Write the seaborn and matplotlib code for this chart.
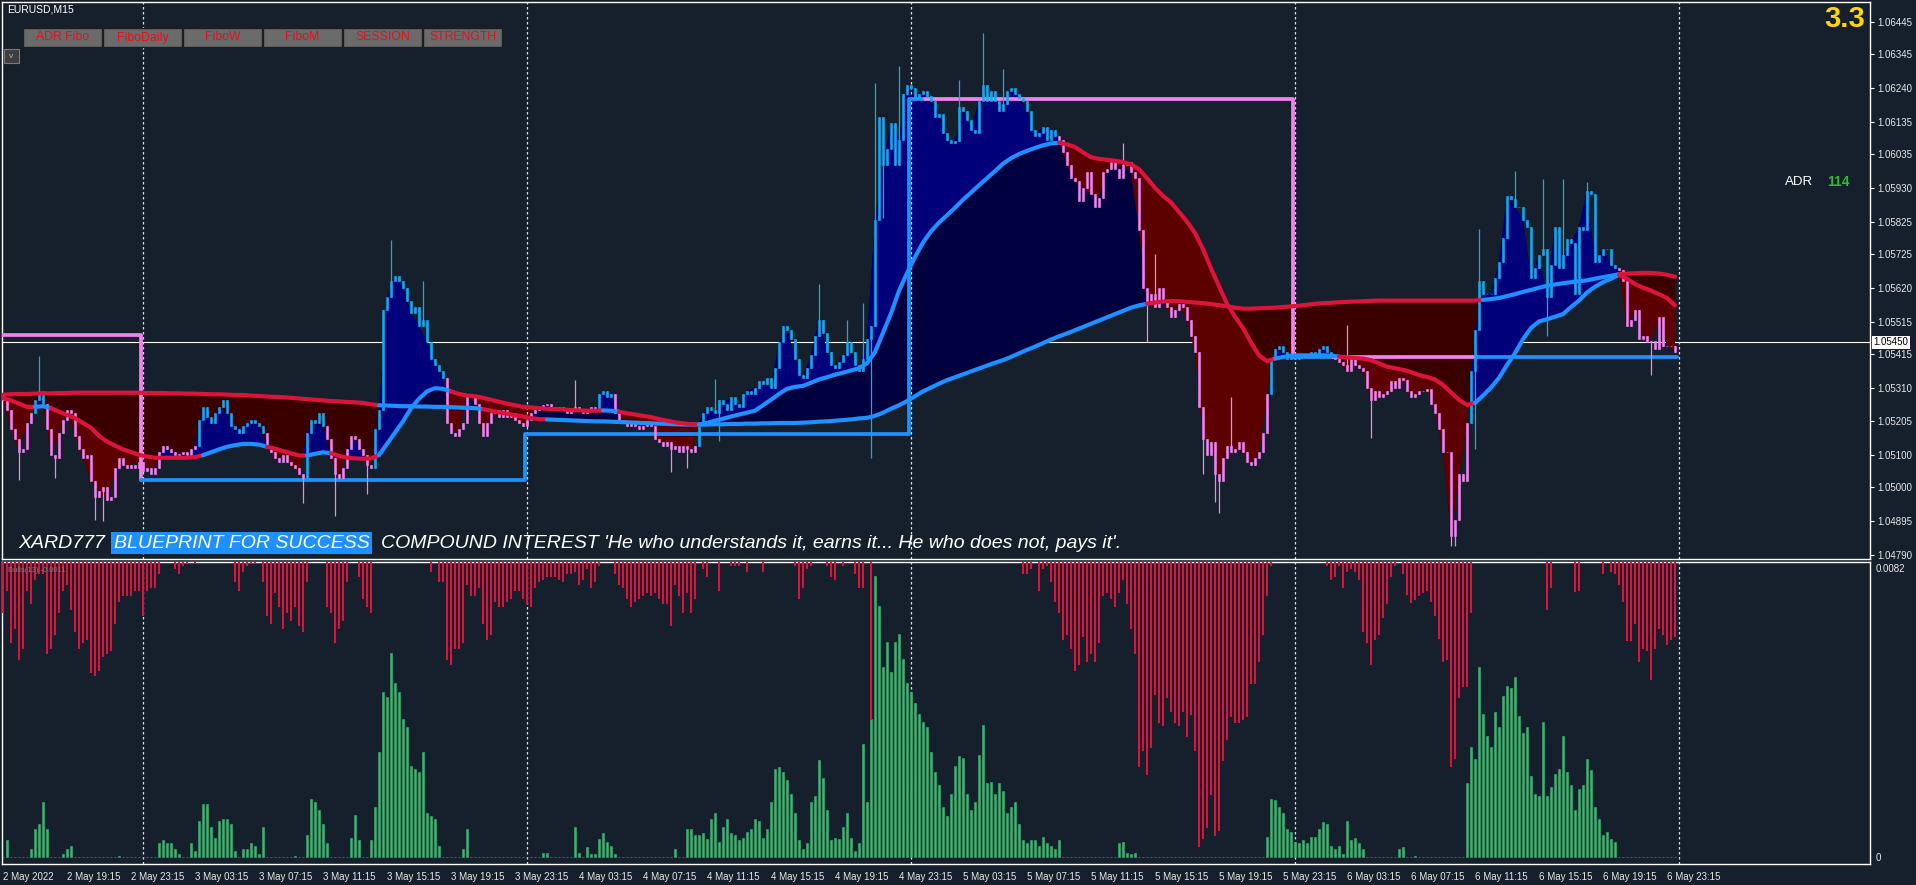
import numpy as np
import matplotlib
matplotlib.use("Agg")
import matplotlib.pyplot as plt
import matplotlib.transforms as mtransforms
from matplotlib.patches import Rectangle
import seaborn as sns

# ---------------------------------------------------------------- data
BASE_PRICE = 1.05000          # prices below are stored in points (1e-5) above this
POINT = 0.00001
N_BARS = 419                  # M15 bars, 2 May 15:15 .. 6 May 23:45

CLOSE_PTS = [
    270, 240, 180, 150, 110, 120, 200, 230, 270, 300,
    260, 180, 100, 90, 170, 210, 240, 230, 160, 120,
    90, 100, 20, -30, -10, 0, -40, -30, 60, 90,
    70, 60, 70, 60, 80, 50, 60, 40, 60, 110,
    130, 120, 110, 100, 105, 110, 100, 120, 130, 210,
    250, 220, 200, 230, 250, 270, 230, 190, 180, 170,
    190, 200, 210, 200, 190, 170, 130, 110, 90, 80,
    100, 80, 70, 60, 40, 30, 170, 210, 200, 230,
    190, 150, 90, 40, 30, 60, 120, 160, 150, 120,
    100, 70, 60, 180, 240, 550, 590, 640, 655, 640,
    620, 580, 540, 560, 500, 520, 450, 400, 380, 360,
    340, 200, 170, 160, 180, 200, 290, 280, 260, 200,
    160, 200, 230, 240, 220, 240, 220, 230, 210, 200,
    190, 210, 230, 240, 250, 255, 260, 250, 240, 250,
    240, 230, 240, 250, 240, 230, 240, 250, 240, 290,
    300, 280, 290, 230, 210, 200, 190, 200, 190, 180,
    190, 200, 190, 150, 140, 130, 140, 120, 130, 110,
    130, 120, 110, 130, 200, 230, 250, 240, 230, 270,
    260, 240, 280, 260, 250, 290, 300, 290, 310, 330,
    320, 340, 310, 370, 450, 500, 490, 460, 400, 350,
    340, 370, 410, 470, 520, 480, 420, 380, 370, 390,
    410, 450, 420, 380, 360, 400, 460, 500, 830, 1150,
    1000, 1050, 1130, 1000, 1080, 1220, 1250, 1240, 1210, 1220,
    1230, 1215, 1200, 1150, 1160, 1100, 1080, 1070, 1075, 1180,
    1170, 1140, 1110, 1100, 1200, 1250, 1200, 1230, 1200, 1170,
    1190, 1230, 1240, 1220, 1210, 1200, 1170, 1110, 1090, 1100,
    1120, 1080, 1110, 1090, 1080, 1040, 1000, 960, 950, 890,
    930, 980, 910, 870, 900, 980, 990, 1010, 990, 960,
    1000, 1010, 980, 960, 800, 620, 570, 600, 560, 620,
    580, 560, 530, 550, 570, 560, 520, 470, 420, 250,
    150, 100, 140, 40, 20, 90, 130, 110, 120, 140,
    110, 80, 70, 90, 110, 170, 290, 400, 430, 440,
    420, 400, 410, 400, 410, 410, 415, 420, 410, 430,
    440, 420, 410, 400, 390, 380, 360, 400, 380, 370,
    360, 310, 270, 300, 280, 290, 300, 330, 310, 340,
    332, 300, 280, 290, 300, 300, 305, 260, 230, 180,
    110, 110, -150, -100, 40, 20, 200, 360, 490, 640,
    600, 600, 600, 650, 700, 775, 905, 895, 870, 870,
    830, 810, 650, 680, 720, 740, 590, 690, 810, 680,
    720, 770, 760, 600, 810, 800, 920, 910, 700, 720,
    740, 740, 690, 680, 675, 640, 500, 520, 550, 460,
    470, 450, 455, 430, 530, 440, 440, 440, 420,
]
OPEN0_PTS = 290

HIGH_WICK_PTS = {9: 409, 97: 768, 105: 640, 143: 332, 178: 335, 204: 631,
                 211: 520, 215: 571, 218: 1256, 224: 1308, 239: 1265,
                 245: 1410, 250: 1299, 280: 1068, 288: 725, 307: 280,
                 336: 503, 369: 803, 378: 982, 385: 957, 390: 957, 396: 948}
LOW_WICK_PTS = {4: 24, 13: 30, 23: -100, 25: -105, 75: -50, 83: -88, 91: -20,
                167: 49, 171: 60, 179: 143, 217: 92, 220: 837, 286: 452,
                300: 41, 303: -45, 304: -79, 342: 152, 362: -182, 363: -182,
                368: 118, 386: 469, 412: 349}

MA_STEP = 2   # moving averages read every 2 bars (bars 0, 2, ..., 418)
FAST_MA_PTS = [
    277, 270, 260, 250, 250, 252, 246, 235, 225, 215,
    200, 185, 160, 142, 130, 118, 110, 101, 96, 92,
    92, 92, 92, 92, 94, 100, 109, 118, 126, 131,
    135, 135, 133, 126, 120, 113, 106, 99, 99, 104,
    109, 106, 98, 92, 90, 89, 90, 100, 135, 170,
    205, 246, 275, 298, 308, 306, 298, 290, 285, 283,
    278, 272, 266, 260, 255, 250, 248, 246, 244, 243,
    242, 240, 239, 238, 238, 239, 238, 235, 230, 226,
    222, 218, 212, 207, 202, 199, 196, 195, 200, 207,
    213, 220, 226, 232, 238, 255, 272, 290, 306, 312,
    315, 325, 335, 342, 350, 356, 363, 370, 385, 420,
    480, 540, 610, 665, 715, 760, 795, 822, 845, 868,
    893, 915, 938, 960, 982, 1005, 1022, 1035, 1045, 1054,
    1062, 1068, 1070, 1065, 1057, 1040, 1025, 1020, 1017, 1014,
    1010, 1003, 988, 960, 930, 905, 885, 855, 825, 790,
    740, 680, 625, 570, 530, 495, 450, 410, 392, 400,
    405, 409, 410, 410, 410, 410, 409, 406, 404, 402,
    400, 395, 385, 375, 370, 365, 358, 349, 343, 335,
    318, 295, 272, 256, 262, 285, 310, 340, 380, 417,
    460, 495, 515, 522, 530, 538, 560, 580, 605, 623,
    637, 648, 660, 648, 631, 620, 611, 600, 588, 565,
]
SLOW_MA_PTS = [
    288, 289, 290, 290, 291, 292, 292, 293, 293, 294,
    294, 294, 294, 294, 294, 294, 294, 294, 293, 293,
    293, 292, 292, 291, 291, 290, 289, 289, 288, 287,
    287, 285, 284, 282, 281, 280, 278, 276, 274, 272,
    270, 268, 267, 265, 264, 262, 258, 255, 254, 253,
    252, 252, 251, 251, 250, 250, 249, 248, 247, 246,
    243, 238, 233, 229, 224, 220, 215, 212, 211, 210,
    209, 208, 207, 206, 205, 205, 204, 203, 202, 201,
    200, 199, 198, 197, 196, 195, 195, 195, 195, 196,
    196, 197, 197, 198, 198, 199, 199, 200, 200, 200,
    201, 202, 204, 205, 207, 209, 211, 214, 216, 222,
    232, 244, 255, 268, 283, 298, 310, 322, 333, 342,
    351, 360, 369, 378, 387, 395, 405, 416, 427, 437,
    448, 459, 469, 478, 488, 498, 508, 518, 528, 538,
    548, 558, 565, 570, 574, 577, 579, 578, 576, 574,
    572, 569, 566, 562, 558, 555, 555, 556, 557, 558,
    560, 562, 564, 567, 570, 572, 573, 575, 576, 577,
    578, 579, 580, 580, 580, 580, 580, 580, 580, 580,
    580, 580, 580, 580, 580, 582, 585, 588, 594, 600,
    607, 613, 620, 626, 630, 634, 637, 640, 643, 648,
    653, 657, 662, 664, 665, 666, 666, 664, 660, 654,
]
# trend state runs (start bar, 'U' up / 'D' down) as coloured in the chart
FAST_TREND = [(0, 'D'), (8, 'U'), (11, 'D'), (49, 'U'), (66, 'D'), (76, 'U'),
              (81, 'D'), (93, 'U'), (111, 'D'), (149, 'U'), (153, 'D'),
              (174, 'U'), (264, 'D'), (317, 'U'), (333, 'D'), (367, 'U'),
              (404, 'D')]
SLOW_TREND = [(0, 'D'), (93, 'U'), (119, 'D'), (135, 'U'), (285, 'D'),
              (369, 'U'), (404, 'D')]

DAY_START_BARS = [0, 35, 131, 227, 323, 419]
DAY_LEVEL_PTS = [472, 24, 167, 1205, 405]
LEVEL_TREND = [(0, 'D'), (35, 'U'), (231, 'D'), (323, 'U'), (333, 'D'), (369, 'U')]

HIST_GREEN_PTS = {
    1: 47, 7: 23, 8: 78, 9: 94, 10: 156, 11: 78, 15: 8, 16: 23, 17: 31, 29: 3,
    39: 39, 40: 47, 41: 39, 42: 39, 43: 23, 44: 8, 47: 39, 48: 16, 49: 102,
    50: 149, 51: 149, 52: 86, 53: 55, 54: 102, 55: 109, 56: 109, 57: 94,
    58: 16, 60: 23, 61: 23, 62: 39, 63: 31, 64: 8, 65: 86, 73: 3, 76: 63,
    77: 164, 78: 156, 79: 133, 80: 94, 81: 39, 87: 55, 88: 120, 89: 47,
    92: 47, 93: 141, 94: 297, 95: 469, 96: 454, 97: 579, 98: 493, 99: 469,
    100: 391, 101: 368, 102: 258, 103: 250, 104: 242, 105: 297, 106: 125,
    107: 117, 108: 109, 109: 31, 115: 23, 116: 78, 135: 11, 136: 11, 143: 86,
    144: 11, 146: 27, 147: 8, 148: 8, 149: 52, 150: 67, 151: 42, 152: 31,
    153: 8, 168: 23, 171: 78, 172: 78, 173: 63, 174: 63, 175: 67, 176: 52,
    177: 109, 178: 125, 179: 42, 180: 86, 181: 109, 182: 67, 183: 63,
    184: 47, 185: 55, 186: 70, 187: 78, 188: 109, 189: 102, 190: 55, 191: 78,
    192: 156, 193: 250, 194: 255, 195: 242, 196: 219, 197: 180, 198: 125,
    199: 47, 200: 23, 201: 39, 202: 156, 203: 172, 204: 274, 205: 224,
    206: 133, 207: 47, 208: 55, 209: 52, 210: 86, 211: 125, 212: 55, 213: 16,
    214: 39, 215: 321, 216: 156, 217: 391, 218: 798, 219: 712, 220: 540,
    221: 610, 222: 524, 223: 610, 224: 633, 225: 563, 226: 493, 227: 469,
    228: 438, 229: 407, 230: 383, 231: 368, 232: 297, 233: 242, 234: 203,
    235: 141, 236: 117, 237: 180, 238: 258, 239: 286, 240: 282, 241: 180,
    242: 133, 243: 156, 244: 289, 245: 375, 246: 211, 247: 214, 248: 180,
    249: 211, 250: 188, 251: 125, 252: 141, 253: 156, 254: 94, 255: 47,
    256: 39, 257: 47, 258: 47, 259: 31, 260: 58, 261: 39, 262: 31, 263: 23,
    264: 47, 279: 39, 280: 42, 281: 11, 282: 8, 283: 11, 316: 58, 317: 164,
    318: 161, 319: 141, 320: 125, 321: 78, 322: 70, 323: 42, 324: 39,
    325: 47, 326: 39, 327: 58, 328: 58, 329: 78, 330: 99, 331: 94, 332: 31,
    333: 23, 334: 31, 335: 8, 336: 102, 337: 47, 338: 55, 339: 39, 340: 23,
    349: 23, 350: 27, 353: 3, 366: 211, 367: 313, 368: 277, 369: 540,
    370: 407, 371: 344, 372: 313, 373: 411, 374: 368, 375: 458, 376: 485,
    377: 480, 378: 511, 379: 399, 380: 352, 381: 368, 382: 230, 383: 180,
    384: 172, 385: 383, 386: 172, 387: 199, 388: 235, 389: 250, 390: 344,
    391: 242, 392: 203, 393: 133, 394: 192, 395: 203, 396: 277, 397: 246,
    398: 141, 399: 109, 400: 63, 401: 70, 402: 52, 403: 42,
}
HIST_RED_PTS = {   # depth of the red bars hanging from the top of the window
    0: 144, 1: 81, 2: 230, 3: 191, 4: 277, 5: 246, 6: 81, 7: 120, 8: 50,
    9: 34, 10: 34, 11: 261, 12: 246, 13: 206, 14: 144, 15: 81, 16: 66,
    17: 136, 18: 199, 19: 246, 20: 230, 21: 222, 22: 316, 23: 324, 24: 308,
    25: 269, 26: 261, 27: 253, 28: 175, 29: 113, 30: 97, 31: 97, 32: 97,
    33: 81, 34: 81, 35: 152, 36: 81, 37: 74, 38: 74, 39: 34, 43: 19, 44: 34,
    45: 11, 46: 6, 48: 3, 58: 58, 59: 81, 60: 27, 61: 11, 62: 6, 63: 6,
    65: 58, 66: 152, 67: 175, 68: 89, 69: 128, 70: 191, 71: 144, 72: 167,
    73: 128, 74: 183, 75: 199, 76: 58, 81: 128, 82: 144, 83: 230, 84: 191,
    85: 167, 86: 58, 89: 42, 90: 105, 91: 128, 92: 144, 107: 27, 109: 58,
    110: 58, 111: 277, 112: 292, 113: 246, 114: 246, 115: 230, 116: 66,
    117: 97, 118: 97, 119: 74, 120: 175, 121: 222, 122: 206, 123: 113,
    124: 128, 125: 128, 126: 113, 127: 105, 128: 81, 129: 81, 130: 105,
    131: 120, 132: 128, 133: 74, 134: 58, 135: 50, 136: 42, 137: 42, 138: 42,
    139: 50, 140: 58, 141: 34, 142: 34, 143: 27, 144: 66, 145: 50, 146: 19,
    147: 74, 148: 58, 149: 11, 153: 34, 154: 66, 155: 74, 156: 105, 157: 128,
    158: 113, 159: 105, 160: 97, 161: 89, 162: 97, 163: 89, 164: 105,
    165: 120, 166: 120, 167: 183, 168: 66, 169: 97, 170: 144, 171: 89,
    172: 144, 173: 105, 175: 19, 176: 42, 179: 81, 182: 11, 183: 11, 184: 11,
    186: 27, 190: 27, 198: 11, 199: 105, 200: 74, 201: 19, 202: 11, 206: 11,
    207: 42, 208: 50, 210: 11, 213: 34, 214: 74, 215: 74, 217: 449, 255: 34,
    256: 34, 257: 19, 259: 81, 260: 19, 261: 11, 262: 58, 263: 113, 264: 144,
    265: 222, 266: 206, 267: 246, 268: 308, 269: 292, 270: 214, 271: 285,
    272: 261, 273: 285, 274: 230, 275: 97, 276: 89, 277: 105, 278: 128,
    279: 89, 280: 50, 281: 120, 282: 191, 283: 261, 284: 582, 285: 535,
    286: 605, 287: 527, 288: 378, 289: 457, 290: 464, 291: 386, 292: 425,
    293: 457, 294: 464, 295: 425, 296: 496, 297: 433, 298: 535, 299: 809,
    300: 785, 301: 754, 302: 660, 303: 777, 304: 762, 305: 566, 306: 504,
    307: 441, 308: 457, 309: 457, 310: 449, 311: 441, 312: 347, 313: 347,
    314: 285, 315: 206, 316: 97, 317: 11, 331: 11, 332: 50, 333: 42, 334: 11,
    335: 74, 336: 27, 337: 19, 338: 27, 339: 50, 340: 199, 341: 230,
    342: 292, 343: 222, 344: 206, 345: 160, 346: 120, 347: 42, 348: 11,
    350: 34, 351: 94, 352: 116, 353: 109, 354: 97, 355: 89, 356: 81,
    357: 113, 358: 152, 359: 219, 360: 285, 361: 277, 362: 582, 363: 558,
    364: 386, 365: 355, 366: 355, 367: 144, 386: 136, 387: 74, 393: 84,
    394: 81, 400: 34, 402: 27, 403: 34, 404: 66, 405: 113, 406: 225,
    407: 225, 408: 175, 409: 285, 410: 246, 411: 253, 412: 335, 413: 246,
    414: 191, 415: 206, 416: 235, 417: 222, 418: 214,
}
HIST_TOP = 0.00837
HIST_BOTTOM = -0.00020

PRICE_TICKS = ["1.06445", "1.06345", "1.06240", "1.06135", "1.06035", "1.05930",
               "1.05825", "1.05725", "1.05620", "1.05515", "1.05415", "1.05310",
               "1.05205", "1.05100", "1.05000", "1.04895", "1.04790"]
CURRENT_PRICE = "1.05450"
HIST_TICKS = ["0.0082", "0"]
TIME_LABELS = ["2 May 2022", "2 May 19:15", "2 May 23:15", "3 May 03:15",
               "3 May 07:15", "3 May 11:15", "3 May 15:15", "3 May 19:15",
               "3 May 23:15", "4 May 03:15", "4 May 07:15", "4 May 11:15",
               "4 May 15:15", "4 May 19:15", "4 May 23:15", "5 May 03:15",
               "5 May 07:15", "5 May 11:15", "5 May 15:15", "5 May 19:15",
               "5 May 23:15", "6 May 03:15", "6 May 07:15", "6 May 11:15",
               "6 May 15:15", "6 May 19:15", "6 May 23:15"]
TIME_LABEL_EVERY = 16
BUTTONS = ["ADR Fibo", "FiboDaily", "FiboW", "FiboM", "SESSION", "STRENGTH"]
BANNER = ["XARD777", "BLUEPRINT FOR SUCCESS",
          "COMPOUND INTEREST 'He who understands it, earns it... He who does not, pays it'."]

# ---------------------------------------------------------------- style
BG = "#16202c"
UP_LINE, DN_LINE = "#1e90ff", "#dc143c"
UP_CANDLE, DN_CANDLE = "#12a9f2", "#ee82ee"
LEVEL_UP, LEVEL_DN = "#1e90ff", "#ee82ee"
FILL_UP, FILL_UP_DARK = "#00007a", "#00003e"
FILL_DN, FILL_DN_DARK = "#5c0000", "#3a0000"
HIST_G, HIST_R = "#3cb371", "#dc143c"

sns.set_theme(style="dark", rc={"axes.facecolor": BG, "figure.facecolor": BG,
                                "axes.edgecolor": "white", "axes.grid": False})
plt.rcParams["font.family"] = ["Liberation Sans", "DejaVu Sans"]

W, H = 1916, 885
fig = plt.figure(figsize=(W / 100, H / 100), dpi=100)
ax = fig.add_axes([2 / W, (H - 559) / H, 1868 / W, 557 / H])
ax2 = fig.add_axes([2 / W, 21 / H, 1868 / W, 302 / H])
for a in (ax, ax2):
    a.set_facecolor(BG)
    for s in a.spines.values():
        s.set_color("white")
        s.set_linewidth(1.0)
    a.set_xlim(-0.25, 466.75)


def expand(runs, n):
    codes = np.empty(n, dtype="<U1")
    for k, (s, c) in enumerate(runs):
        e = runs[k + 1][0] if k + 1 < len(runs) else n
        codes[s:e] = c
    return codes


def pts(v):
    return BASE_PRICE + np.asarray(v, dtype=float) * POINT


bars = np.arange(N_BARS)
close = pts(CLOSE_PTS)
opens = np.concatenate([[pts(OPEN0_PTS)], close[:-1]])
body_lo = np.minimum(opens, close)
body_hi = np.maximum(opens, close)
high = body_hi.copy()
low = body_lo.copy()
for i, v in HIGH_WICK_PTS.items():
    high[i] = max(high[i], pts(v))
for i, v in LOW_WICK_PTS.items():
    low[i] = min(low[i], pts(v))

fast_codes = expand(FAST_TREND, N_BARS)
slow_codes = expand(SLOW_TREND, N_BARS)
level_codes = expand(LEVEL_TREND, N_BARS)

# ---------------------------------------------------------------- main window
ax.set_ylim(pts(-222.4), pts(1507.1))
ax.axhline(float(CURRENT_PRICE), color="white", lw=0.8, zorder=1.5)

knots = np.arange(0, N_BARS, MA_STEP)
fast = pts(FAST_MA_PTS)
slow = pts(SLOW_MA_PTS)
ck = close[knots]
ax.fill_between(knots, ck, slow, where=ck >= slow, interpolate=True,
                color=FILL_UP_DARK, lw=0, zorder=2)
ax.fill_between(knots, ck, slow, where=ck < slow, interpolate=True,
                color=FILL_DN_DARK, lw=0, zorder=2)
ax.fill_between(knots, ck, fast, where=ck >= fast, interpolate=True,
                color=FILL_UP, lw=0, zorder=2.1)
ax.fill_between(knots, ck, fast, where=ck < fast, interpolate=True,
                color=FILL_DN, lw=0, zorder=2.1)

# day separators
for a in (ax, ax2):
    for d in DAY_START_BARS[1:]:
        a.axvline(d, color="#e0e0e0", lw=0.9, ls=(0, (2, 2)), zorder=2.5)

# daily level step line
levels = np.empty(N_BARS)
for k in range(len(DAY_LEVEL_PTS)):
    levels[DAY_START_BARS[k]:DAY_START_BARS[k + 1]] = pts(DAY_LEVEL_PTS[k])
k = 0
while k < N_BARS:
    e = k
    while e < N_BARS and level_codes[e] == level_codes[k]:
        e += 1
    xs = np.arange(k, e + 1) - 0.5
    ys = levels[k:e + 1] if e < N_BARS else np.append(levels[k:e], levels[e - 1])
    col = LEVEL_UP if level_codes[k] == "U" else LEVEL_DN
    sns.lineplot(x=xs, y=ys, ax=ax, color=col, lw=2.7, drawstyle="steps-post",
                 estimator=None, sort=False, legend=False, zorder=3)
    k = e

# candles
ccol = np.where(fast_codes == "U", UP_CANDLE, DN_CANDLE)
ax.vlines(bars, low, high, colors=ccol, lw=0.9, zorder=4)
ax.bar(bars, body_hi - body_lo, bottom=body_lo, width=0.62, color=ccol,
       edgecolor=ccol, linewidth=0.4, zorder=4.1)

# moving averages


def draw_ma(vals, codes):
    kc = codes[knots]
    s = 0
    n = len(knots)
    while s < n:
        e = s
        while e < n and kc[e] == kc[s]:
            e += 1
        stop = min(e + 1, n)
        col = UP_LINE if kc[s] == "U" else DN_LINE
        sns.lineplot(x=knots[s:stop], y=vals[s:stop], ax=ax, color=col, lw=3.0,
                     estimator=None, sort=False, legend=False, zorder=5,
                     solid_capstyle="round")
        s = e


draw_ma(slow, slow_codes)
draw_ma(fast, fast_codes)

ax.set_xticks([])
ax.set_xlabel("")
ax.set_ylabel("")
ax.yaxis.tick_right()
ax.set_yticks([float(t) for t in PRICE_TICKS])
ax.set_yticklabels(PRICE_TICKS)
ax.tick_params(axis="y", direction="out", length=3, width=0.8, colors="white",
               labelsize=7, pad=2, labelcolor="#e8e8e8")
blend = mtransforms.blended_transform_factory(ax.transAxes, ax.transData)
ax.text(1.0017, float(CURRENT_PRICE), CURRENT_PRICE, transform=blend, fontsize=7,
        color="black", va="center", ha="left", zorder=10,
        bbox=dict(facecolor="white", edgecolor="none", pad=1.2))

# ---------------------------------------------------------------- histogram window
ax2.set_ylim(HIST_BOTTOM, HIST_TOP)
green = np.array([HIST_GREEN_PTS.get(i, 0) for i in bars]) * POINT
ax2.bar(bars, green, width=0.66, color=HIST_G, edgecolor=HIST_G, linewidth=0.4,
        zorder=3)
rb = np.array(sorted(HIST_RED_PTS))
rd = np.array([HIST_RED_PTS[i] for i in rb]) * POINT
ax2.bar(rb, rd, bottom=HIST_TOP - rd, width=0.72, color=HIST_R,
        linewidth=0, zorder=3)
ax2.yaxis.tick_right()
ax2.set_yticks([float(t) for t in HIST_TICKS])
ax2.set_yticklabels(HIST_TICKS)
ax2.tick_params(axis="y", length=0, colors="white", labelsize=7, pad=4,
                labelcolor="#e8e8e8")
ax2.set_xticks(np.arange(len(TIME_LABELS)) * TIME_LABEL_EVERY)
ax2.set_xticklabels(TIME_LABELS)
for t in ax2.get_xticklabels():
    t.set_horizontalalignment("left")
ax2.tick_params(axis="x", direction="out", length=4, width=0.8, colors="white",
                labelsize=7, pad=1.5, labelcolor="#e8e8e8")
ax2.set_xlabel("")
ax2.set_ylabel("")

# ---------------------------------------------------------------- overlay texts


def fx(x):
    return x / W


def fy(y):
    return 1 - y / H


fig.text(fx(7), fy(10), "EURUSD,M15", color="white", fontsize=7.5,
         va="center", ha="left")
for k, name in enumerate(BUTTONS):
    x0 = 23 + 80 * k
    fig.add_artist(Rectangle((fx(x0), fy(47)), 79 / W, 19 / H, transform=fig.transFigure,
                             facecolor="#6b6b6b", edgecolor="#1e1e1e", lw=1.0))
    fig.text(fx(x0 + 39.5), fy(37.5), name, color="#e3101c", fontsize=8.8,
             ha="center", va="center")
fig.add_artist(Rectangle((fx(4), fy(63)), 15 / W, 14 / H, transform=fig.transFigure,
                         facecolor="#3e3e3e", edgecolor="#7a7a7a", lw=0.8))
fig.text(fx(11.5), fy(56), "v", color="#b8b8b8", fontsize=6, ha="center", va="center")

fig.text(fx(1865), fy(19), "3.3", color="#ffd700", fontsize=21, fontweight="bold",
         ha="right", va="center")
fig.text(fx(1785), fy(182), "ADR", color="white", fontsize=9.5, ha="left", va="center")
fig.text(fx(1827), fy(182), "114", color="#2dbd2d", fontsize=10, fontweight="bold",
         ha="left", va="center")

fig.text(fx(18), fy(543), BANNER[0], color="white", fontsize=14, style="italic",
         ha="left", va="center")
fig.text(fx(114), fy(543), BANNER[1], color="white", fontsize=14, style="italic",
         ha="left", va="center",
         bbox=dict(facecolor="#1e90ff", edgecolor="none", pad=2.0))
fig.text(fx(381), fy(543), BANNER[2], color="white", fontsize=14, style="italic",
         ha="left", va="center")
fig.text(fx(8), fy(570), "Bulls(13) -0.0011", color="#7c7c7c", fontsize=5.5,
         ha="left", va="center")

fig.savefig("out.png", dpi=100, facecolor=BG)
